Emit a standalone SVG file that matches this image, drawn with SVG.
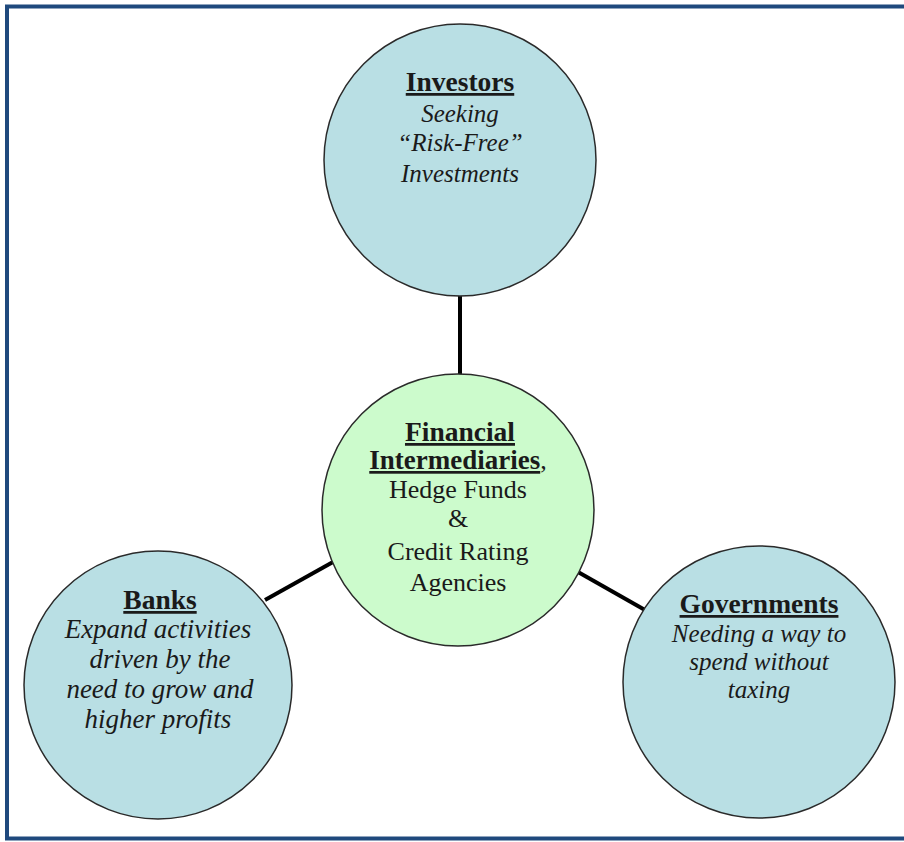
<svg xmlns="http://www.w3.org/2000/svg" width="904" height="842" viewBox="0 0 904 842">
<style>
.node{fill:#b9dfe4;stroke:#2a2a2a;stroke-width:1.5}
.hub{fill:#ccfbcc;stroke:#2a2a2a;stroke-width:1.5}
.conn{stroke:#000;stroke-width:4;fill:none}
text{font-family:"Liberation Serif","Times New Roman",serif;fill:#1a1a1a;text-anchor:middle}
.h{font-weight:bold;font-size:27.5px;text-decoration:underline}
.i{font-style:italic;font-size:25px}
.ib{font-style:italic;font-size:27px}
.r{font-size:26px}
</style>
<rect x="0" y="0" width="904" height="842" fill="#ffffff"/>
<rect x="7" y="6.5" width="905" height="832" fill="none" stroke="#1f497d" stroke-width="4"/>
<g id="connectors">
<line class="conn" x1="460" y1="295" x2="460" y2="375"/>
<line class="conn" x1="265" y1="600" x2="333" y2="562"/>
<line class="conn" x1="578" y1="572" x2="645" y2="610"/>
</g>
<g id="investors">
<circle class="node" cx="460" cy="160" r="136"/>
<text class="h" x="460" y="91">Investors</text>
<text class="i" x="460" y="122">Seeking</text>
<text class="i" x="460" y="151">“Risk-Free”</text>
<text class="i" x="460" y="182">Investments</text>
</g>
<g id="hub">
<circle class="hub" cx="458" cy="510" r="136"/>
<text class="h" x="460" y="441">Financial</text>
<text x="458" y="469" class="r"><tspan font-weight="bold" font-size="27px" text-decoration="underline">Intermediaries</tspan>,</text>
<text class="r" x="458" y="498">Hedge Funds</text>
<text class="r" x="458" y="527">&amp;</text>
<text class="r" x="458" y="560">Credit Rating</text>
<text class="r" x="458" y="591">Agencies</text>
</g>
<g id="banks">
<circle class="node" cx="158" cy="685" r="134"/>
<text class="h" x="160" y="609">Banks</text>
<text class="ib" x="158" y="638">Expand activities</text>
<text class="ib" x="160" y="668">driven by the</text>
<text class="ib" x="160" y="698">need to grow and</text>
<text class="ib" x="158" y="728">higher profits</text>
</g>
<g id="governments">
<circle class="node" cx="759" cy="682" r="136"/>
<text class="h" x="759" y="613">Governments</text>
<text class="i" x="759" y="642">Needing a way to</text>
<text class="i" x="759" y="670">spend without</text>
<text class="i" x="759" y="698">taxing</text>
</g>
</svg>
